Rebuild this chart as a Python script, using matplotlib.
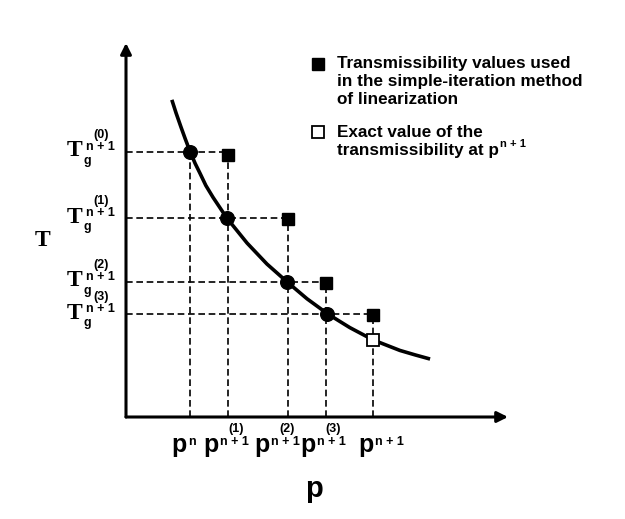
import matplotlib
matplotlib.use("Agg")
import matplotlib.pyplot as plt
from matplotlib.lines import Line2D

SANS = "Liberation Sans"
SERIF = "Liberation Serif"

# T(p) curve (arbitrary units, both axes 0..10)
curve_p = [1.20, 1.31, 1.44, 1.55, 1.68, 1.81, 1.94, 2.09, 2.28, 2.64, 3.17,
           3.69, 4.22, 4.74, 5.29, 5.86, 6.47, 7.17, 7.57, 7.96]
curve_T = [8.48, 8.13, 7.75, 7.44, 7.09, 6.78, 6.51, 6.19, 5.87, 5.32, 4.65,
           4.09, 3.61, 3.16, 2.75, 2.39, 2.06, 1.78, 1.66, 1.55]

# iterates on the curve: p^n, p^n+1(1), p^n+1(2), p^n+1(3), p^n+1
iter_p = [1.68, 2.65, 4.22, 5.27, 6.47]
iter_T = [7.09, 5.32, 3.61, 2.75, 2.06]

# transmissibility used by simple iteration (filled squares)
sq_p = [2.67, 4.24, 5.24, 6.47]
sq_T = [7.01, 5.30, 3.58, 2.72]

p_sup = ["n", "n + 1", "n + 1", "n + 1", "n + 1"]
p_iter_lbl = ["", "(1)", "(2)", "(3)", ""]
T_iter_lbl = ["(0)", "(1)", "(2)", "(3)"]

legend_filled = ["Transmissibility values used",
                 "in the simple-iteration method",
                 "of linearization"]
legend_open = ["Exact value of the", "transmissibility at p"]

W, H, DPI = 625, 519, 100
fig = plt.figure(figsize=(W / DPI, H / DPI), dpi=DPI)
# axes corner at (126, 417) px, arrow tips at x=508 and y=43
ax = fig.add_axes([126 / W, (H - 417) / H, (508 - 126) / W, (417 - 43) / H])
ax.set_xlim(0, 10)
ax.set_ylim(0, 10)
ax.axis("off")

# axes with arrow heads
arr = dict(arrowstyle="-|>", lw=2.2, color="black", mutation_scale=16,
           shrinkA=0, shrinkB=0)
ax.annotate("", xy=(1, 0), xytext=(0, 0), xycoords="axes fraction", arrowprops=arr)
ax.annotate("", xy=(0, 1), xytext=(0, 0), xycoords="axes fraction", arrowprops=arr)

dash = dict(color="black", lw=1.2, ls=(0, (4, 2.2)), zorder=1)
# horizontal guides: axis -> circle -> square
for k in range(4):
    ax.plot([0, sq_p[k]], [iter_T[k], iter_T[k]], **dash)
# vertical guides
ax.plot([iter_p[0], iter_p[0]], [0, iter_T[0]], **dash)
for k in range(4):
    ax.plot([sq_p[k], sq_p[k]], [0, sq_T[k]], **dash)

ax.plot(curve_p, curve_T, color="black", lw=2.6, zorder=2,
        solid_joinstyle="round", solid_capstyle="butt")
ax.plot(iter_p[:4], iter_T[:4], "o", color="black", ms=9.8, zorder=3)
ax.plot(sq_p, sq_T, "s", color="black", ms=8.5, zorder=3)
ax.plot(iter_p[4:], iter_T[4:], "s", mfc="white", mec="black", mew=1.3, ms=8.3, zorder=4)


def lbl(text, xy, dx, dy, size, family=SANS, ha="center", va="center"):
    ax.annotate(text, xy=xy, xycoords="data", xytext=(dx, dy),
                textcoords="offset pixels", ha=ha, va=va, fontsize=size,
                fontweight="bold", family=family, annotation_clip=False)


# T tick labels: T_g^{n+1} with iteration index on top
for k in range(4):
    xy = (0, iter_T[k])
    lbl("T", xy, -51, 1, 17, family=SERIF)
    lbl("g", xy, -39, -9, 9)
    lbl("n + 1", xy, -26, 5, 9)
    lbl(T_iter_lbl[k], xy, -25, 17, 9)

# p tick labels
p_ticks = [iter_p[0]] + sq_p
p_dx = [-19, -25, -34, -26, -15]
for k in range(5):
    xy = (p_ticks[k], 0)
    lbl("p", xy, p_dx[k], -35, 18, ha="left", va="baseline")
    lbl(p_sup[k], xy, p_dx[k] + 17, -28, 9, ha="left", va="baseline")
    if p_iter_lbl[k]:
        lbl(p_iter_lbl[k], xy, p_dx[k] + 33, -12, 9)

# axis titles
fig.text(43 / W, 1 - 241 / H, "T", family=SERIF, fontweight="bold", fontsize=17,
         ha="center", va="center")
fig.text(314 / W, 1 - 497 / H, "p", family=SANS, fontweight="bold", fontsize=21,
         ha="center", va="baseline")


def ftext(x, y, s, size=12.3):
    return fig.text(x / W, 1 - y / H, s, family=SANS, fontweight="bold",
                    fontsize=size, ha="left", va="baseline")


# legend drawn by hand
fig.add_artist(Line2D([317.5 / W], [1 - 64 / H], marker="s", color="black", ms=8.5,
                      transform=fig.transFigure))
fig.add_artist(Line2D([317.5 / W], [1 - 131.5 / H], marker="s", mfc="white",
                      mec="black", mew=1.3, ms=8.3, transform=fig.transFigure))
for i, line in enumerate(legend_filled):
    ftext(337, 68 + 18 * i, line)
ftext(337, 137, legend_open[0])
last = ftext(337, 155, legend_open[1])
bb = last.get_window_extent(renderer=fig.canvas.get_renderer())
ftext(bb.x1 + 1.5, 147, "n + 1", size=8)

fig.savefig("out.png", dpi=DPI)
